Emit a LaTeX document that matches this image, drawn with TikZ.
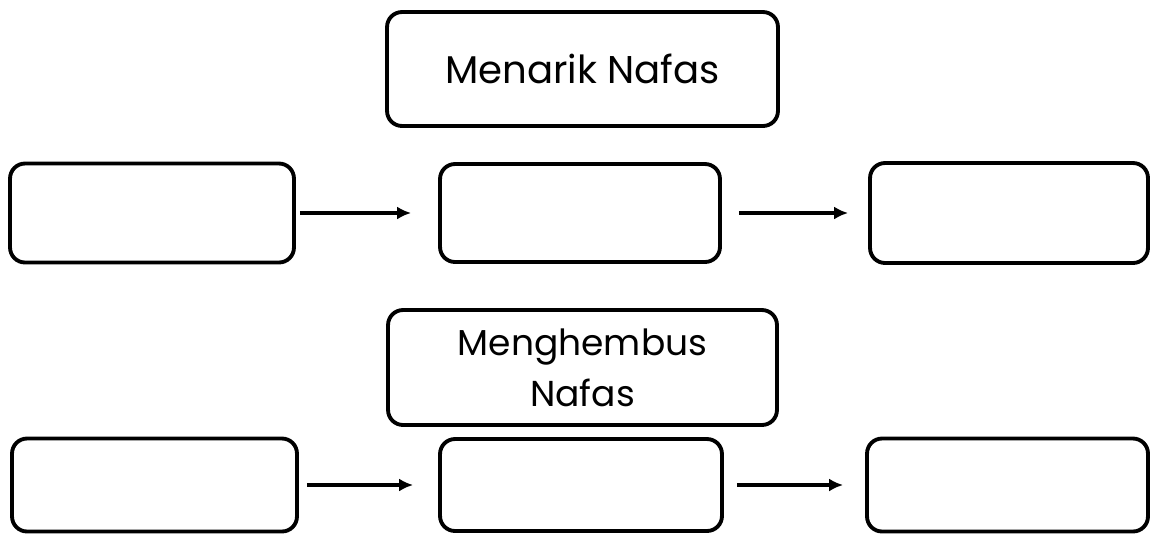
\documentclass[tikz,border=0pt]{standalone}
\usepackage{fontspec}
\setmainfont{Poppins}
\usetikzlibrary{arrows.meta}

\begin{document}
\begin{tikzpicture}[x=0.02cm,y=-0.02cm,
    kotak/.style={draw,line width=2.2pt,rounded corners=0.3cm,inner sep=0pt},
    panah/.style={line width=2.1pt,-{Latex[length=2.8mm,width=2.6mm]}}]
    \useasboundingbox (0,0) rectangle (1152,535);
    % judul
    \node[kotak,minimum width=7.82cm,minimum height=2.28cm,font=\fontsize{22}{26}\selectfont] (tarik) at (582.5,69) {Menarik Nafas};
    \node[kotak,minimum width=7.78cm,minimum height=2.3cm,align=center,font=\fontsize{20.5}{29}\selectfont] (hembus) at (582.5,367.5) {Menghembus\\Nafas};
    % baris atas
    \node[kotak,minimum width=5.68cm,minimum height=1.98cm] (a1) at (152,213) {};
    \node[kotak,minimum width=5.6cm,minimum height=1.96cm] (a2) at (580,213) {};
    \node[kotak,minimum width=5.56cm,minimum height=2cm] (a3) at (1009,213) {};
    % baris bawah
    \node[kotak,minimum width=5.7cm,minimum height=1.86cm] (b1) at (154.5,485) {};
    \node[kotak,minimum width=5.64cm,minimum height=1.84cm] (b2) at (581,485) {};
    \node[kotak,minimum width=5.62cm,minimum height=1.86cm] (b3) at (1007.5,485) {};
    % panah
    \draw[panah,shorten <=0.08cm,shorten >=0.54cm] (a1) -- (a2);
    \draw[panah,shorten <=0.34cm,shorten >=0.4cm] (a2) -- (a3);
    \draw[panah,shorten <=0.16cm,shorten >=0.5cm] (b1) -- (b2);
    \draw[panah,shorten <=0.26cm,shorten >=0.44cm] (b2) -- (b3);
\end{tikzpicture}
\end{document}
